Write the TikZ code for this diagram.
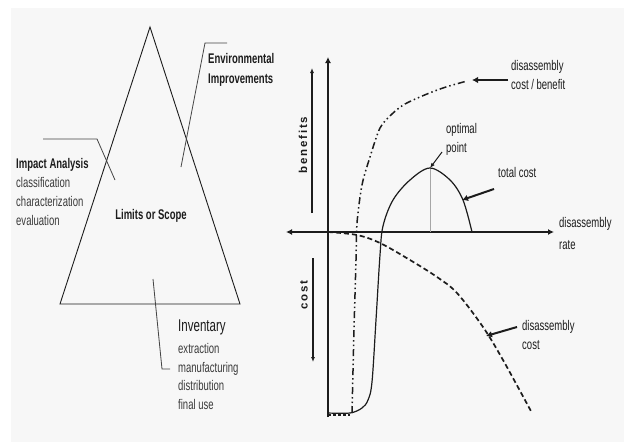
\documentclass[tikz,border=0pt]{standalone}
\usepackage{fontspec}
\setmainfont[FakeStretch=0.68]{Liberation Sans}
\newfontfamily\widefont[LetterSpace=15]{Liberation Sans}
\usetikzlibrary{arrows.meta}
\definecolor{bg}{HTML}{F7F7F7}
\definecolor{ink}{HTML}{1C1C1C}
\definecolor{soft}{HTML}{3A3A3A}
\definecolor{leader}{HTML}{444444}
\begin{document}
\begin{tikzpicture}[x=1pt,y=-1pt,
  txt/.style={inner sep=0pt, text=ink, font=\fontsize{14}{19}\selectfont, align=left, anchor=north west},
  sub/.style={inner sep=0pt, text=soft, font=\fontsize{14}{19}\selectfont, align=left, anchor=north west},
  ttl/.style={inner sep=0pt, text=ink, font=\fontsize{14}{19}\selectfont\bfseries, anchor=north west},
  ldr/.style={draw=leader, line width=0.8pt},
  tri/.style={draw=ink, line width=0.9pt},
  axis/.style={draw=ink, line width=1.6pt},
  bigarrow/.style={draw=ink, line width=2pt, -{Latex[length=6pt,width=6.5pt]}},
  thinarrow/.style={draw=ink, line width=1pt, -{Latex[length=5pt,width=4pt]}},
  vlab/.style={inner sep=0pt, text=ink, font=\widefont\fontsize{11.5}{13}\selectfont\bfseries, rotate=90}
]
% background
\fill[white] (0,0) rectangle (624,442);
\fill[bg] (11,8) rectangle (624,442);
\useasboundingbox (0,0) rectangle (624,442);

% ---------- triangle ----------
\coordinate (apex) at (150,27);
\coordinate (bl) at (60,304);
\coordinate (br) at (240,304);
\draw[tri] (apex) -- (bl) -- (br) -- cycle;

\node[inner sep=0pt, text=ink, font=\fontsize{14}{19}\selectfont\bfseries] (scope) at (151,216) {Limits or Scope};

% Environmental Improvements
\node[ttl, align=left, font=\fontsize{14}{20}\selectfont\bfseries] (env) at (208,53) {Environmental\\Improvements};
\coordinate (envIn) at (181,167);
\coordinate (envK) at (205,43);
\coordinate (envE) at (227,43);
\draw[ldr] (envIn) -- (envK) -- (envE);

% Impact Analysis
\node[ttl] (imp) at (16,158) {Impact Analysis};
\node[sub] (impl) at (16,177) {classification\\characterization\\evaluation};
\coordinate (impS) at (43,139);
\coordinate (impK) at (97,139);
\coordinate (impIn) at (115,180);
\draw[ldr] (impS) -- (impK) -- (impIn);

% Inventary
\node[inner sep=0pt, text=ink, font=\fontsize{17}{19}\selectfont, anchor=north west] (inv) at (178,320) {Inventary};
\node[sub, font=\fontsize{14}{18.8}\selectfont] (invl) at (178,343) {extraction\\manufacturing\\distribution\\final use};
\coordinate (invIn) at (153,279);
\coordinate (invK) at (162,369);
\coordinate (invE) at (170,369);
\draw[ldr] (invIn) -- (invK) -- (invE);

% ---------- chart ----------
\coordinate (O) at (328,232);
\coordinate (xl) at (286,232);
\coordinate (xr) at (554,232);
\coordinate (yb) at (328,417);
\coordinate (yt) at (328,57);
\draw[axis, {Latex[length=6pt,width=6pt]}-{Latex[length=6pt,width=6pt]}] (xl) -- (xr);
\draw[axis, -{Latex[length=6pt,width=6pt]}] (yb) -- (yt);

% benefits / cost side arrows
\coordinate (bA) at (312,213);
\coordinate (bB) at (312,68);
\draw[thinarrow, line width=1.2pt] (bA) -- (bB);
\node[vlab] (ben) at (303,145) {benefits};
\coordinate (cA) at (313,258);
\coordinate (cB) at (313,362);
\draw[thinarrow, line width=1.2pt] (cA) -- (cB);
\node[vlab] (cst) at (304,295) {cost};

% optimal point vertical
\coordinate (peak) at (430,168);
\coordinate (peakB) at (430,232);
\draw[draw=gray!70, line width=0.9pt] (peak) -- (peakB);

% total cost curve
\draw[draw=ink, line width=1.2pt] plot[smooth, tension=0.55] coordinates {
  (328,413) (350,413) (362,408) (368,400) (372,382) (376,320) (380,255) (383,226)
  (393,200) (410,180) (430,168) (450,180) (463,200) (472,232)};

% cost / benefit dash-dot curve
\draw[draw=ink, line width=1.5pt, dash pattern=on 7pt off 3pt on 1.5pt off 3pt on 1.5pt off 3pt]
  plot[smooth, tension=0.5] coordinates {
  (352,413) (354,330) (356,260) (357,223) (362,185) (370,157) (380,128) (392,114) (405,104) (427,94) (446,87) (467,81)};

% disassembly cost dashed curve
\draw[draw=ink, line width=1.7pt, dash pattern=on 5pt off 3pt]
  plot[smooth, tension=0.55] coordinates {
  (328,232) (357,235) (380,243) (410,260) (437,277) (457,293) (483,327) (503,360) (532,413)};
\draw[draw=ink, line width=1.7pt, dash pattern=on 3pt off 2pt] (328,415) -- (350,415);

% labels
\node[txt] (cbl) at (511,60) {disassembly\\cost / benefit};
\coordinate (cbT) at (508,80);
\coordinate (cbH) at (472,80);
\draw[bigarrow] (cbT) -- (cbH);

\node[txt] (opt) at (446,123) {optimal\\point};
\coordinate (optT) at (442,152);
\draw[thinarrow] (optT) -- (peak);

\node[txt] (tcl) at (498,167) {total cost};
\coordinate (tcT) at (494,189);
\coordinate (tcH) at (462,200);
\draw[bigarrow] (tcT) -- (tcH);

\node[txt, font=\fontsize{14}{22}\selectfont] (rate) at (559,217) {disassembly\\rate};

\node[txt] (dcl) at (522,320) {disassembly\\cost};
\coordinate (dcT) at (517,327);
\coordinate (dcH) at (486,336);
\draw[bigarrow] (dcT) -- (dcH);
\end{tikzpicture}
\end{document}
